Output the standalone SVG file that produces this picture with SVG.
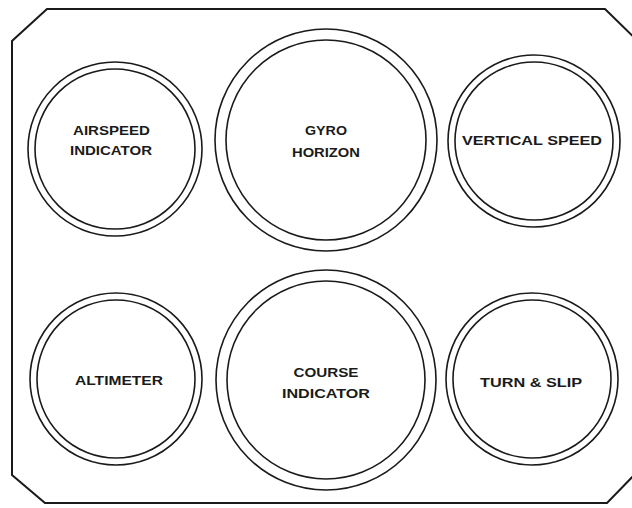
<svg xmlns="http://www.w3.org/2000/svg" width="632" height="508" viewBox="0 0 632 508">
<style>
.panel{fill:none;stroke:#1a1a1a;stroke-width:2;stroke-linejoin:miter}
.ring{fill:none;stroke:#1a1a1a;stroke-width:1.6}
.lbl{font-family:"Liberation Sans",Arial,sans-serif;font-weight:bold;font-size:13px;fill:#1a1a1a;text-anchor:middle}
</style>
<rect width="632" height="508" fill="#ffffff"/>
<path class="panel" d="M47,9 L605,9 L642,45 L642,467 L607,503 L45,503 L12,475 L12,41 Z"/>
<g id="airspeed">
<circle class="ring" cx="115" cy="149" r="87"/>
<circle class="ring" cx="115" cy="149" r="80"/>
<text class="lbl" x="111.5" y="135" textLength="77" lengthAdjust="spacingAndGlyphs">AIRSPEED</text>
<text class="lbl" x="111" y="155" textLength="82" lengthAdjust="spacingAndGlyphs">INDICATOR</text>
</g>
<g id="gyro">
<circle class="ring" cx="326" cy="140" r="111"/>
<circle class="ring" cx="326" cy="140" r="100"/>
<text class="lbl" x="326" y="135" textLength="42" lengthAdjust="spacingAndGlyphs">GYRO</text>
<text class="lbl" x="326" y="157" textLength="68" lengthAdjust="spacingAndGlyphs">HORIZON</text>
</g>
<g id="vertical-speed">
<circle class="ring" cx="534" cy="141" r="86"/>
<circle class="ring" cx="534" cy="141" r="79"/>
<text class="lbl" x="532" y="145" textLength="140" lengthAdjust="spacingAndGlyphs">VERTICAL SPEED</text>
</g>
<g id="altimeter">
<circle class="ring" cx="116" cy="379" r="86"/>
<circle class="ring" cx="116" cy="379" r="79"/>
<text class="lbl" x="119" y="385" textLength="88" lengthAdjust="spacingAndGlyphs">ALTIMETER</text>
</g>
<g id="course">
<circle class="ring" cx="326" cy="380" r="110"/>
<circle class="ring" cx="326" cy="380" r="99"/>
<text class="lbl" x="326" y="377" textLength="65" lengthAdjust="spacingAndGlyphs">COURSE</text>
<text class="lbl" x="326" y="398" textLength="88" lengthAdjust="spacingAndGlyphs">INDICATOR</text>
</g>
<g id="turn-slip">
<circle class="ring" cx="532" cy="379" r="86"/>
<circle class="ring" cx="532" cy="379" r="79"/>
<text class="lbl" x="531" y="387" textLength="102" lengthAdjust="spacingAndGlyphs">TURN &amp; SLIP</text>
</g>
<g id="connectors"/>
</svg>
